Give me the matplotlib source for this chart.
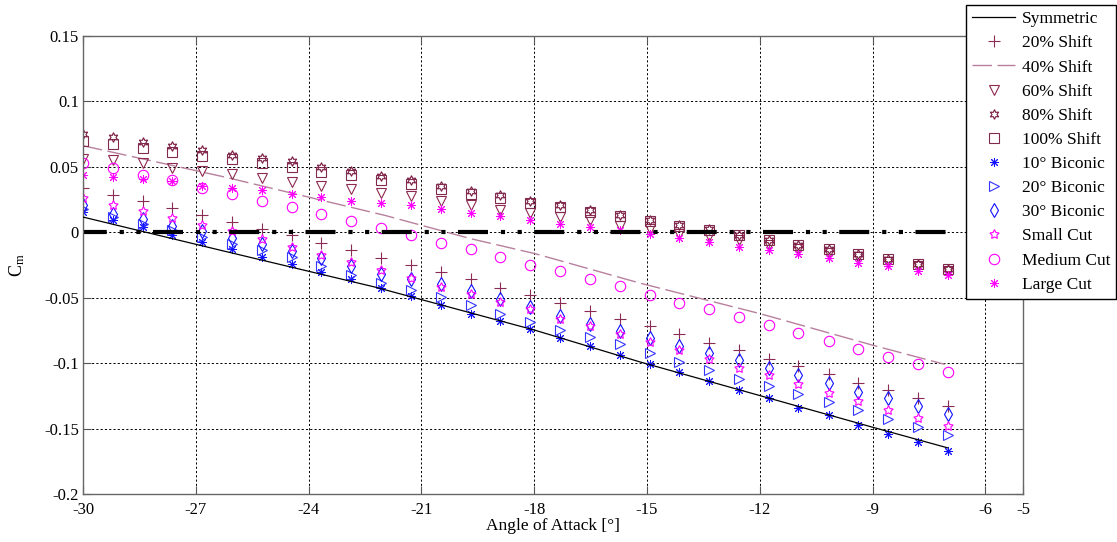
#!/usr/bin/env python3
"""
Pitching moment coefficient vs angle of attack for the nose shape variants.
"""

import matplotlib
matplotlib.use("Agg")
import matplotlib.pyplot as plt

# Angle of attack sweep [deg]
aoa = [-30.0, -29.21, -28.41, -27.62, -26.83, -26.03, -25.24, -24.45, -23.66, -22.86,
       -22.07, -21.28, -20.48, -19.69, -18.90, -18.10, -17.31, -16.52, -15.72, -14.93,
       -14.14, -13.34, -12.55, -11.76, -10.97, -10.17, -9.38, -8.59, -7.79, -7.0]

# Line series (read at a few points along the curve)
sym_aoa = [-30.0, -26.22, -22.23, -17.97, -15.18, -9.0, -7.0]
sym_cm = [0.0115, -0.0147, -0.042, -0.075, -0.0992, -0.149, -0.1648]

shift40_aoa = [-30.0, -26.22, -21.96, -19.69, -17.97, -15.18, -11.99, -8.98, -7.08]
shift40_cm = [0.066, 0.042, 0.0127, -0.005, -0.0165, -0.039, -0.0623, -0.0865, -0.101]

# zero reference
zero_aoa = [-30.0, -7.0]
zero_cm = [0.0, 0.0]

# Marker series
shift20 = [0.0336, 0.0285, 0.0234, 0.0183, 0.0133, 0.0076, 0.0026, -0.0025, -0.0081, -0.0134,
           -0.0197, -0.0254, -0.0305, -0.036, -0.0424, -0.0478, -0.054, -0.060, -0.066, -0.0717,
           -0.078, -0.0844, -0.090, -0.0966, -0.1025, -0.1086, -0.115, -0.1208, -0.1264, -0.1328]
shift60 = [0.056, 0.0547, 0.0527, 0.049, 0.047, 0.0446, 0.0415, 0.038, 0.0356, 0.033,
           0.0295, 0.0275, 0.024, 0.021, 0.017, 0.0148, 0.0115, 0.009, 0.005, 0.002,
           -0.0012, -0.003, -0.006, -0.0095, -0.013, -0.016, -0.019, -0.0225, -0.026, -0.030]
shift80 = [0.075, 0.0725, 0.069, 0.066, 0.0624, 0.059, 0.0568, 0.054, 0.0496, 0.0463,
           0.043, 0.0395, 0.0356, 0.0313, 0.028, 0.0235, 0.0204, 0.0166, 0.0133, 0.0095,
           0.0056, 0.002, -0.002, -0.0058, -0.0095, -0.013, -0.0165, -0.0205, -0.024, -0.028]
shift100 = [0.0695, 0.0675, 0.064, 0.061, 0.0585, 0.056, 0.053, 0.0496, 0.0458, 0.0433,
            0.0395, 0.037, 0.033, 0.029, 0.026, 0.022, 0.019, 0.0153, 0.012, 0.0084,
            0.005, 0.0018, -0.0025, -0.0063, -0.010, -0.0132, -0.0165, -0.0208, -0.024, -0.028]
biconic10 = [0.0153, 0.009, 0.004, -0.002, -0.0076, -0.013, -0.019, -0.024, -0.0305, -0.036,
             -0.0424, -0.0489, -0.056, -0.0623, -0.068, -0.074, -0.081, -0.087, -0.0936, -0.1005,
             -0.107, -0.114, -0.1203, -0.127, -0.134, -0.140, -0.147, -0.154, -0.160, -0.167]
biconic20 = [0.018, 0.0115, 0.0064, 0.0013, -0.0038, -0.0089, -0.014, -0.019, -0.0262, -0.0325,
             -0.039, -0.044, -0.0496, -0.056, -0.0623, -0.0687, -0.0745, -0.080, -0.0857, -0.0924,
             -0.099, -0.1056, -0.112, -0.1178, -0.124, -0.130, -0.136, -0.1424, -0.1488, -0.155]
biconic30 = [0.0205, 0.014, 0.010, 0.005, 0.0005, -0.0046, -0.009, -0.0147, -0.020, -0.026,
             -0.032, -0.036, -0.040, -0.045, -0.051, -0.057, -0.064, -0.070, -0.0756, -0.0806,
             -0.087, -0.092, -0.098, -0.104, -0.109, -0.115, -0.122, -0.127, -0.133, -0.1386]
small_cut = [0.026, 0.021, 0.0158, 0.0107, 0.0056, 0.0005, -0.0056, -0.0115, -0.0172, -0.023,
             -0.0292, -0.035, -0.042, -0.0476, -0.0534, -0.059, -0.066, -0.072, -0.078, -0.084,
             -0.090, -0.097, -0.1035, -0.1094, -0.1163, -0.1226, -0.129, -0.136, -0.142, -0.1483]
medium_cut = [0.053, 0.049, 0.0438, 0.0395, 0.0336, 0.0293, 0.0234, 0.019, 0.014, 0.0082,
              0.0028, -0.0025, -0.008, -0.0132, -0.019, -0.025, -0.030, -0.036, -0.0415, -0.048,
              -0.054, -0.059, -0.065, -0.0707, -0.0768, -0.083, -0.0895, -0.095, -0.1005, -0.107]
large_cut = [0.0438, 0.042, 0.0408, 0.0387, 0.0356, 0.0336, 0.0318, 0.0293, 0.0267, 0.024,
             0.0222, 0.0204, 0.0173, 0.0148, 0.012, 0.009, 0.0064, 0.0038, 0.0013, -0.0015,
             -0.0048, -0.0076, -0.011, -0.014, -0.017, -0.020, -0.0234, -0.026, -0.030, -0.033]

x_ticks = [-30, -27, -24, -21, -18, -15, -12, -9, -6, -5]
y_ticks = [-0.2, -0.15, -0.1, -0.05, 0, 0.05, 0.1, 0.15]
y_tick_labels = ['-0.2', '-0.15', '-0.1', '-0.05', '0', '0.05', '0.1', '0.15']

plt.rcParams['font.family'] = ['Liberation Serif', 'DejaVu Serif']
plt.rcParams['mathtext.fontset'] = 'custom'
plt.rcParams['mathtext.rm'] = 'Liberation Serif'
plt.rcParams['mathtext.it'] = 'Liberation Serif:italic'

MAROON = '#8a2a55'
BLUE = '#1010ff'
MAGENTA = '#ff00ff'


def make_plot():
    fig = plt.figure(figsize=(11.17, 5.42), dpi=100)
    ax = fig.add_axes([0.0743, 0.0886, 0.8415, 0.8455])

    mk = dict(linestyle='none', markersize=7, markeredgewidth=0.8, markerfacecolor='none')
    ast = dict(linestyle='none', markersize=6.5, markeredgewidth=0.7)

    ax.plot(sym_aoa, sym_cm, color='black', lw=0.9, label='Symmetric', zorder=3)
    ax.plot(aoa, shift20, marker='+', color=MAROON, label='20% Shift',
            linestyle='none', markersize=8, markeredgewidth=0.8)
    ax.plot(shift40_aoa, shift40_cm, color='#b8809e', lw=1.0,
            linestyle=(0, (14, 4)), label='40% Shift')
    ax.plot(aoa, shift60, marker='v', color='#8e2a50', label='60% Shift', **mk)
    ax.plot(aoa, shift80, marker=(6, 1, 0), color='#7a1a40', label='80% Shift', **mk)
    ax.plot(aoa, shift100, marker='s', color='#822a4e', label='100% Shift', **mk)
    ax.plot(aoa, biconic10, marker=(8, 2, 0), color=BLUE, label='10° Biconic', **ast)
    ax.plot(aoa, biconic20, marker='>', color='#3535ff', label='20° Biconic', **mk)
    ax.plot(aoa, biconic30, marker='d', color=BLUE, label='30° Biconic', **mk)
    ax.plot(aoa, small_cut, marker=(5, 1, 0), color=MAGENTA, label='Small Cut', **mk)
    ax.plot(aoa, medium_cut, marker='o', color=MAGENTA, label='Medium Cut',
            linestyle='none', markersize=7.5, markeredgewidth=0.8, markerfacecolor='none')
    ax.plot(aoa, large_cut, marker=(8, 2, 0), color=MAGENTA, label='Large Cut', **ast)

    # thick dash-dot reference at zero
    ax.plot(zero_aoa, zero_cm, color='black', lw=3.0, solid_capstyle='butt',
            dash_capstyle='butt', linestyle=(1.5, (7.2, 3.1, 1.0, 3.0, 1.0, 3.0)), zorder=2)

    ax.set_xlim(-30, -5)
    ax.set_ylim(-0.2, 0.15)
    ax.set_xticks(x_ticks)
    ax.set_xticklabels([str(t) for t in x_ticks])
    ax.set_yticks(y_ticks)
    ax.set_yticklabels(y_tick_labels)
    ax.tick_params(direction='in', length=6, width=0.8, color='#555555',
                   top=True, right=True, labelsize=12, pad=3)
    ax.tick_params(axis='x', pad=6)
    ax.grid(True, color='black', linestyle=(0, (2.2, 2.2)), lw=0.7)
    ax.set_axisbelow(True)
    for sp in ax.spines.values():
        sp.set_color('#666666')
        sp.set_linewidth(1.0)

    ax.set_xlabel('Angle of Attack [°]', fontsize=12.5, labelpad=0)
    ax.set_ylabel('C$_\\mathrm{m}$', fontsize=13, labelpad=12)

    leg = fig.legend(loc='upper left', bbox_to_anchor=(966 / 1117, 1 - 5 / 542),
                     fontsize=12.5, frameon=True, fancybox=False, framealpha=1,
                     edgecolor='black', handlelength=2.5, handletextpad=0.35,
                     labelspacing=0.46, borderpad=0.35, borderaxespad=0)
    leg.get_frame().set_linewidth(1.0)
    return fig


if __name__ == "__main__":
    fig = make_plot()
    fig.savefig('out.png', dpi=100)
